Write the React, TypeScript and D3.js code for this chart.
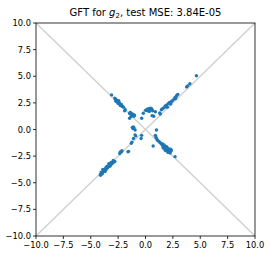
import React from "react";
import * as d3 from "d3";

const W = 270, H = 257;
const M = { left: 36, right: 15, top: 23, bottom: 21 };

const xTicks = [-10, -7.5, -5, -2.5, 0, 2.5, 5, 7.5, 10];
const yTicks = [-10, -7.5, -5, -2.5, 0, 2.5, 5, 7.5, 10];

// branch along y = -x, upper-left
const upperLeftX = [-3.1, -2.8, -2.75, -2.7, -2.65, -2.6, -2.55, -2.5, -2.45, -2.4, -2.35, -2.3, -2.25, -2.2, -2.15, -2.1, -2.6, -2.4, -2.3, -2.0, -2.7, -2.5, -2.2, -2.45, -1.85, -1.9, -1.45, -1.35, -1.3, -1.25, -1.2, -1.15, -1.05, -1.0, -1.3, -1.4, -1.1, -1.45, -0.35, -0.2];
const upperLeftY = [3.25, 2.95, 2.85, 2.8, 2.75, 2.7, 2.65, 2.6, 2.5, 2.45, 2.4, 2.35, 2.3, 2.25, 2.2, 2.15, 2.6, 2.55, 2.25, 2.1, 2.65, 2.45, 2.35, 2.7, 1.85, 1.75, 1.5, 1.55, 1.4, 1.35, 1.45, 1.3, 1.25, 1.35, 1.25, 1.6, 1.4, 1.05, 1.05, 1.52];

// off-line cluster above the crossing
const topX = [0.1, 0.15, 0.2, 0.25, 0.3, 0.45, 0.5, 0.55, 0.6, 0.35, 0.9, 0.6, 0.75, 0.0, 0.65];
const topY = [1.8, 1.9, 1.75, 1.85, 1.95, 2.0, 1.9, 1.95, 1.85, 1.7, 1.67, 1.3, 1.25, 1.8, 1.75];

// branch along y = -x, lower-right
const lowerRightX = [0.9, 0.95, 1.0, 1.1, 1.2, 1.3, 1.4, 1.5, 1.6, 1.7, 1.75, 1.8, 1.9, 2.0, 2.1, 2.2, 2.3, 1.65, 1.85, 2.0, 1.9, 2.15, 2.35, 1.55, 2.05, 2.25, 1.7, 1.8, 1.95, 2.1, 2.3, 1.6, 0.7, 2.7];
const lowerRightY = [-0.55, -0.7, -0.85, -1.0, -1.1, -1.2, -1.3, -1.4, -1.5, -1.6, -1.7, -1.8, -1.85, -1.9, -1.95, -2.0, -2.05, -1.75, -1.6, -1.75, -2.0, -2.1, -1.95, -1.35, -2.15, -2.2, -1.45, -1.95, -1.65, -1.8, -1.85, -1.65, -1.55, -2.55];

// branch along y = x, lower-left
const lowerLeftX = [-4.1, -4.0, -3.95, -3.9, -3.85, -3.8, -3.75, -3.7, -3.65, -3.6, -3.55, -3.5, -3.45, -3.4, -3.3, -3.2, -3.1, -3.0, -2.9, -2.8, -4.05, -3.7, -3.5, -3.15, -3.9, -3.6, -3.35, -3.25, -4.1, -2.95, -2.35, -2.2, -2.15, -2.3, -1.6, -1.55, -1.3, -1.25, -1.1, -0.95, -0.9, -0.35, -0.4, -1.1, -1.05, -1.15, -0.95, -1.2];
const lowerLeftY = [-4.2, -4.1, -4.15, -4.0, -3.95, -3.9, -3.8, -3.85, -3.7, -3.75, -3.6, -3.55, -3.6, -3.45, -3.4, -3.3, -3.25, -3.15, -3.05, -3.0, -4.0, -3.95, -3.45, -3.1, -3.75, -3.55, -3.2, -3.45, -4.3, -2.9, -2.25, -2.1, -2.0, -2.1, -2.1, -2.05, -1.3, -1.2, -0.85, -0.5, -0.6, -0.55, -0.85, 0.25, 0.15, 0.1, -0.05, 0.2];

// branch along y = x, upper-right
const upperRightX = [1.3, 1.35, 1.45, 1.55, 1.7, 1.8, 1.9, 1.95, 2.1, 2.2, 2.25, 2.35, 2.45, 2.6, 2.7, 2.8, 2.85, 2.95, 2.0, 2.3, 2.75, 3.75, 3.85, 4.05, 4.65, 1.0];
const upperRightY = [1.55, 1.45, 1.85, 1.95, 2.05, 2.2, 2.15, 2.3, 2.45, 2.55, 2.5, 2.6, 2.7, 2.85, 3.0, 3.1, 3.2, 3.3, 2.1, 2.4, 2.9, 4.0, 4.1, 4.3, 5.05, -0.05];

const groups = [
  [upperLeftX, upperLeftY],
  [topX, topY],
  [lowerRightX, lowerRightY],
  [lowerLeftX, lowerLeftY],
  [upperRightX, upperRightY],
];

export default function App() {
  const x = d3.scaleLinear().domain([-10, 10]).range([M.left, W - M.right]);
  const y = d3.scaleLinear().domain([-10, 10]).range([H - M.bottom, M.top]);
  const pts: [number, number][] = [];
  groups.forEach(([gx, gy]) => gx.forEach((v, i) => pts.push([v, gy[i]])));
  const fmt = (v: number) => (v < 0 ? "\u2212" : "") + Math.abs(v).toFixed(1);
  const font = "DejaVu Sans, sans-serif";
  return (
    <svg width={W} height={H} style={{ position: "absolute", left: 0, top: 0 }} fontFamily={font}>
      <rect width={W} height={H} fill="#fff" />
      <line x1={x(-10)} y1={y(-10)} x2={x(10)} y2={y(10)} stroke="#cfcfcf" strokeWidth={1.3} />
      <line x1={x(-10)} y1={y(10)} x2={x(10)} y2={y(-10)} stroke="#cfcfcf" strokeWidth={1.3} />
      {pts.map(([px, py], i) => (
        <circle key={i} cx={x(px)} cy={y(py)} r={1.7} fill="#1f77b4" />
      ))}
      <rect x={M.left} y={M.top} width={W - M.left - M.right} height={H - M.top - M.bottom} fill="none" stroke="#000" strokeWidth={0.8} />
      {xTicks.map((t) => (
        <g key={"x" + t}>
          <line x1={x(t)} x2={x(t)} y1={H - M.bottom} y2={H - M.bottom + 3} stroke="#000" strokeWidth={0.8} />
          <text x={x(t)} y={H - M.bottom + 11.5} fontSize={8.3} textAnchor="middle">{fmt(t)}</text>
        </g>
      ))}
      {yTicks.map((t) => (
        <g key={"y" + t}>
          <line x1={M.left - 3} x2={M.left} y1={y(t)} y2={y(t)} stroke="#000" strokeWidth={0.8} />
          <text x={M.left - 5} y={y(t) + 3} fontSize={8.3} textAnchor="end">{fmt(t)}</text>
        </g>
      ))}
      <text x={(M.left + W - M.right) / 2} y={16} fontSize={10} textAnchor="middle">
        GFT for <tspan fontStyle="italic">g</tspan><tspan fontSize={7} dy={2}>2</tspan><tspan dy={-2}>, test MSE: 3.84E-05</tspan>
      </text>
    </svg>
  );
}
